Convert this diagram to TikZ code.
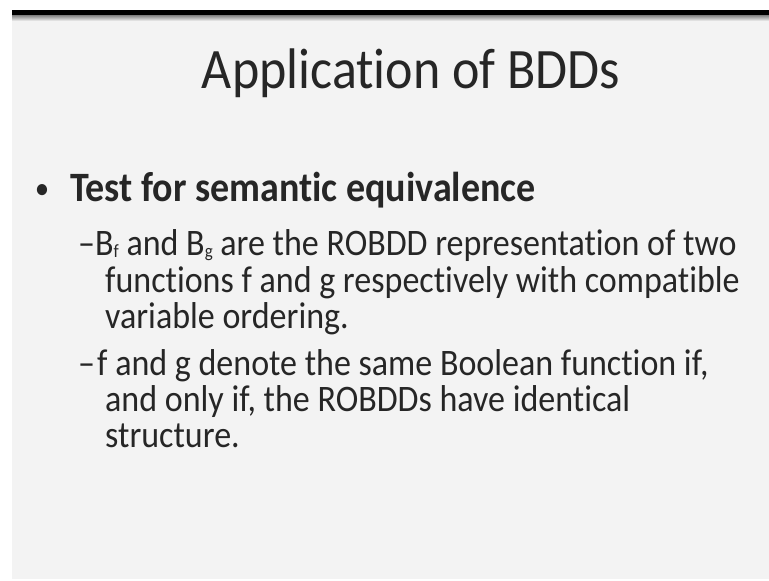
\documentclass[tikz,border=0pt]{standalone}
\usepackage{fontspec}
\setmainfont{Carlito}[Ligatures={NoCommon}]
\usepackage{graphicx}
\definecolor{slidebg}{HTML}{F3F3F3}
\definecolor{ink}{HTML}{262626}
% slide type is set slightly taller than it is wide
\newcommand{\tall}[1]{\scalebox{1}[1.1]{#1}}
% small, slightly lowered index letter
\newcommand{\idx}[1]{\raisebox{-0.08em}{\fontsize{17}{17}\selectfont #1}}
\begin{document}
\begin{tikzpicture}[x=1pt,y=-1pt,
  txt/.style={anchor=base west,inner sep=0pt,text=ink,font=\fontsize{34}{36}\selectfont},
  bold1/.style={anchor=base west,inner sep=0pt,text=ink,font=\fontsize{38}{40}\bfseries\selectfont},
  ttl/.style={anchor=base,inner sep=0pt,text=ink,font=\fontsize{52}{56}\selectfont}]
\useasboundingbox (0,0) rectangle (769,581);
\fill[white] (0,0) rectangle (769,581);
% slide area and its top rule
\fill[slidebg] (12,15) rectangle (769,579);
\fill[black] (12,10) rectangle (769,15);
\shade[top color=black!50, bottom color=slidebg] (12,15) rectangle (769,21);
% title
\node[ttl] (title) at (411,88) {\tall{Application of BDDs}};
% first-level bullet
\node[anchor=base west,inner sep=0pt,text=ink,font=\fontsize{24}{24}\bfseries\selectfont] (dot) at (36,197) {\tall{•}};
\node[bold1] (b1) at (70,201) {\tall{Test for semantic equivalence}};
% second-level items
\node[txt] (d1) at (78,255) {\tall{–}};
\node[txt] (s1a) at (95,255) {\tall{B\idx{f} and B\idx{g} are the ROBDD representation of two}};
\node[txt] (s1b) at (105,292) {\tall{functions f and g respectively with compatible}};
\node[txt] (s1c) at (105,328) {\tall{variable ordering.}};
\node[txt] (d2) at (78,375) {\tall{–}};
\node[txt] (s2a) at (97,375) {\tall{f and g denote the same Boolean function if,}};
\node[txt] (s2b) at (105,411) {\tall{and only if, the ROBDDs have identical}};
\node[txt] (s2c) at (105,447) {\tall{structure.}};
\end{tikzpicture}
\end{document}
